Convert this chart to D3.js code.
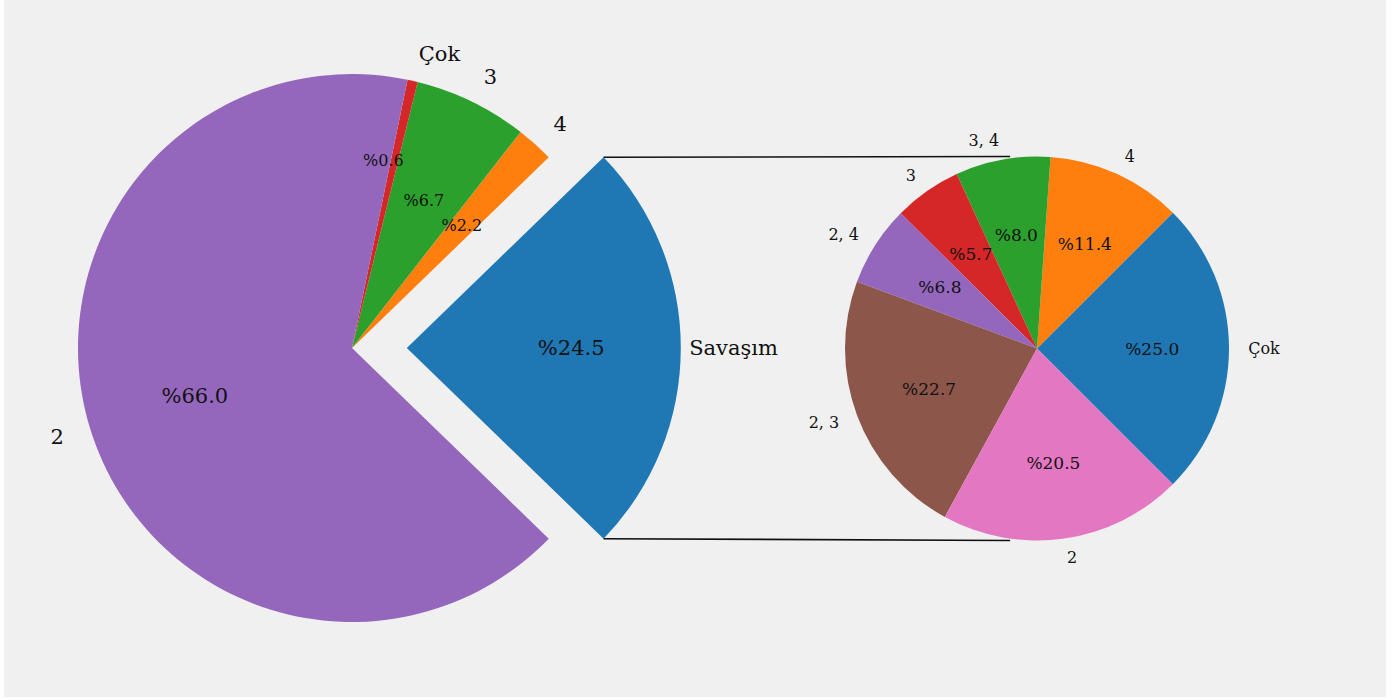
<!DOCTYPE html>
<html>
<head>
<meta charset="utf-8">
<script src="https://cdn.jsdelivr.net/npm/d3@7"></script>
<style>
  html, body { margin: 0; padding: 0; background: #ffffff; }
  svg { display: block; }
  text { font-family: "DejaVu Serif", "Liberation Serif", serif; fill: #111; }
</style>
</head>
<body>
<svg id="chart" width="1397" height="700"></svg>
<script>
// Main pie: share of each category
const mainCategories = ["Savaşım", "4", "3", "Çok", "2"];
const mainValues = [24.5, 2.2, 6.7, 0.6, 66.0];
const mainColors = ["#1f77b4", "#ff7f0e", "#2ca02c", "#d62728", "#9467bd"];

// Breakdown of the "Savaşım" slice
const subCategories = ["Çok", "4", "3, 4", "3", "2, 4", "2, 3", "2"];
const subValues = [25.0, 11.4, 8.0, 5.7, 6.8, 22.7, 20.5];
const subColors = ["#1f77b4", "#ff7f0e", "#2ca02c", "#d62728", "#9467bd", "#8c564b", "#e377c2"];

const W = 1397, H = 700;
const svg = d3.select("#chart");

svg.append("rect").attr("x", 4).attr("y", 0).attr("width", 1382).attr("height", 697)
  .attr("fill", "#f0f0f0");

const pctText = v => "%" + v.toFixed(1);

// Counter-clockwise pie whose first slice is centred on the 3 o'clock direction
function makePie(values) {
  const total = d3.sum(values);
  const a0 = Math.PI / 2 + Math.PI * values[0] / total;
  return d3.pie().sort(null).value(d => d).startAngle(a0).endAngle(a0 - 2 * Math.PI)(values);
}
const mid = d => (d.startAngle + d.endAngle) / 2;
const polar = (a, r) => [Math.sin(a) * r, -Math.cos(a) * r];

function drawPie(opts) {
  const { cx, cy, r, values, cats, colors, explode, pctDist, labelDist,
          pctSize, smallPctSize, labelSize, nudgeLabel, nudgePct } = opts;
  const arcs = makePie(values);
  const arc = d3.arc().innerRadius(0).outerRadius(r);
  const g = svg.append("g").attr("transform", `translate(${cx},${cy})`);
  const offset = (d, i) => polar(mid(d), (explode[i] || 0) * r);

  // wedges first, so no wedge covers a text
  g.append("g").selectAll("path").data(arcs).enter().append("path")
    .attr("transform", (d, i) => `translate(${offset(d, i)})`)
    .attr("d", arc).attr("fill", (d, i) => colors[i]);

  const texts = g.append("g");

  texts.selectAll("text.pct").data(arcs).enter().append("text")
    .attr("class", "pct")
    .attr("transform", (d, i) => {
      const o = offset(d, i);
      const [x, y] = polar(mid(d), r * pctDist);
      const n = nudgePct[cats[i]] || [0, 0];
      return `translate(${x + o[0] + n[0]},${y + o[1] + n[1]})`;
    })
    .attr("text-anchor", "middle")
    .attr("dominant-baseline", "central")
    .style("font-size", d => (d.value < 10 ? smallPctSize : pctSize) + "px")
    .text(d => pctText(d.value));

  texts.selectAll("text.lbl").data(arcs).enter().append("text")
    .attr("class", "lbl")
    .attr("transform", (d, i) => {
      const o = offset(d, i);
      const [x, y] = polar(mid(d), r * labelDist);
      const n = nudgeLabel[cats[i]] || [0, 0];
      return `translate(${x + o[0] + n[0]},${y + o[1] + n[1]})`;
    })
    .attr("text-anchor", d => (polar(mid(d), 1)[0] >= 0 ? "start" : "end"))
    .attr("dominant-baseline", "central")
    .style("font-size", labelSize + "px")
    .text((d, i) => cats[i]);

  return arcs;
}

const main = { cx: 352, cy: 348, r: 274 };
const sub = { cx: 1037, cy: 348.5, r: 192 };
const mainExplode = [0.2, 0, 0, 0, 0];

const mainArcs = drawPie({
  ...main, values: mainValues, cats: mainCategories, colors: mainColors,
  explode: mainExplode, pctDist: 0.6, labelDist: 1.1,
  pctSize: 21, smallPctSize: 16, labelSize: 21,
  nudgeLabel: { "Savaşım": [-19, 0] },
  nudgePct: { "Çok": [-5, -27] }
});

drawPie({
  ...sub, values: subValues, cats: subCategories, colors: subColors,
  explode: [], pctDist: 0.6, labelDist: 1.1,
  pctSize: 17, smallPctSize: 17, labelSize: 16,
  nudgeLabel: {}, nudgePct: {}
});

// Lines linking the exploded slice to the breakdown pie
const s = mainArcs[0];
const shift = polar(mid(s), mainExplode[0] * main.r);
const edgeTop = polar(Math.min(s.startAngle, s.endAngle), main.r);
const edgeBot = polar(Math.max(s.startAngle, s.endAngle), main.r);
const subX = sub.cx - 0.14 * sub.r;
[[edgeTop, sub.cy - sub.r], [edgeBot, sub.cy + sub.r]].forEach(([p, y2]) => {
  svg.append("line")
    .attr("x1", main.cx + shift[0] + p[0]).attr("y1", main.cy + shift[1] + p[1])
    .attr("x2", subX).attr("y2", y2)
    .attr("stroke", "#111").attr("stroke-width", 1.6);
});
</script>
</body>
</html>
